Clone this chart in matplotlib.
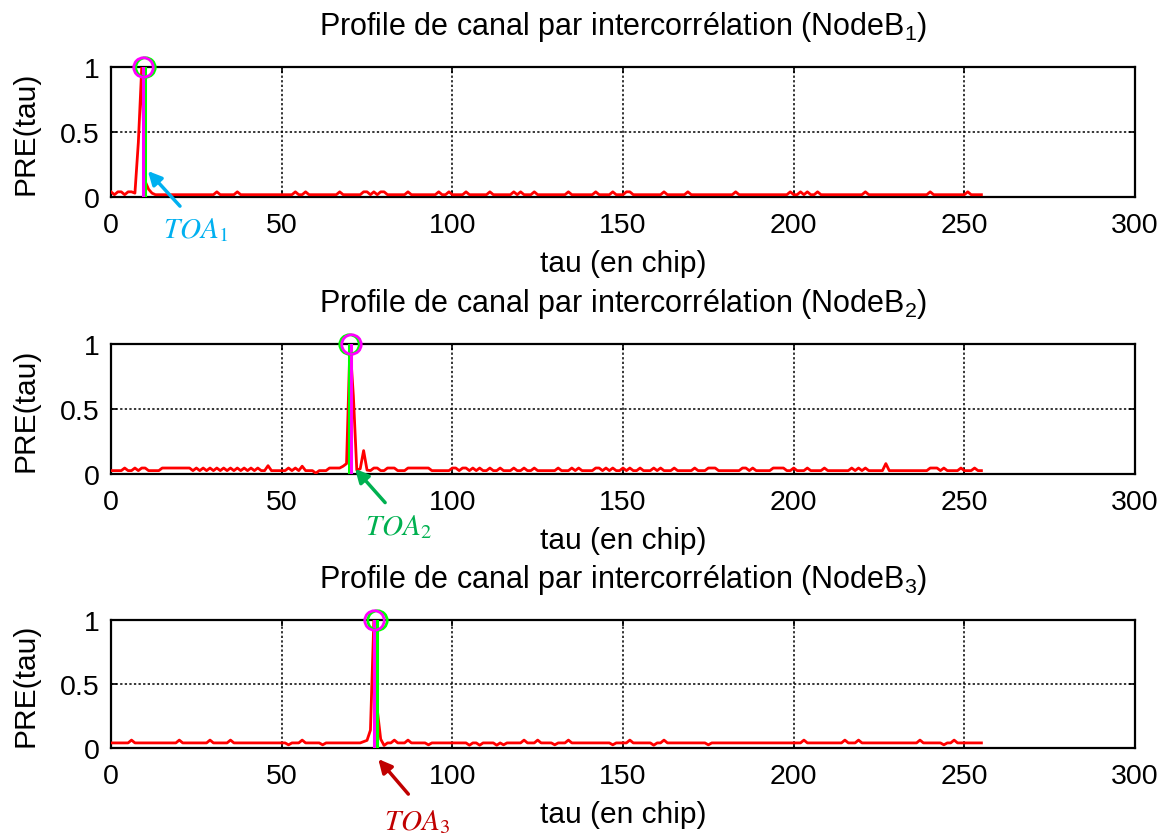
import numpy as np

import matplotlib
matplotlib.use("Agg")
import matplotlib.pyplot as plt


# =========================
# DATA
# =========================

tau = np.arange(256)

# baseline level of each normalised profile
base_levels = [0.018, 0.026, 0.040]

# NodeB1 : main path + small side lobes
peak1 = {7: 0.03, 8: 0.42, 9: 1.0, 10: 0.12, 11: 0.06, 12: 0.03}
bumps1 = [0, 2, 3, 5, 6, 31, 37, 54, 57, 67, 74, 75, 77, 79, 80, 87, 96, 99,
          104, 111, 118, 120, 124, 134, 142, 147, 151, 152, 162, 169, 183,
          199, 202, 204, 207, 221, 240, 251]
bump_val1 = 0.04

# NodeB2
peak2 = {68: 0.06, 69: 0.08, 70: 1.0, 71: 0.6, 72: 0.03, 73: 0.04,
         74: 0.18, 75: 0.03, 46: 0.064, 56: 0.06, 60: 0.006, 227: 0.08}
bumps2 = [4, 7, 9, 10, 15, 16, 17, 18, 19, 20, 21, 22, 23, 25, 27, 29, 31,
          33, 35, 37, 39, 41, 43, 52, 54, 64, 65, 66, 67, 77, 78, 81, 82, 83,
          87, 88, 89, 90, 91, 92, 93, 100, 101, 103, 104, 106, 108, 111, 114,
          118, 121, 124, 131, 135, 137, 142, 143, 145, 147, 150, 152, 155,
          159, 161, 165, 171, 175, 176, 177, 185, 186, 188, 194, 195, 196,
          197, 200, 204, 209, 217, 219, 221, 240, 241, 242, 244, 249, 253]
bump_val2 = 0.046

# NodeB3
peak3 = {74: 0.05, 75: 0.06, 76: 0.14, 77: 1.0, 78: 0.3, 79: 0.07,
         80: 0.02, 52: 0.025, 62: 0.025, 93: 0.025, 105: 0.022, 108: 0.022,
         113: 0.022, 115: 0.025, 130: 0.025, 147: 0.025, 159: 0.022,
         175: 0.025, 244: 0.025}
bumps3 = [6, 20, 29, 35, 56, 83, 87, 121, 125, 134, 152, 162, 203, 215,
          219, 237, 247]
bump_val3 = 0.062

# TOA markers (magenta / green) for each NodeB
toa_magenta = [9.3, 70.4, 76.9]
toa_green = [10.0, 69.8, 77.8]

toa_colors = ["#00B0F0", "#00B050", "#C00000"]

# arrow head, arrow tail and label position for each annotation
arrow_heads = [(10.8, 0.20), (71.5, 0.04), (78.3, -0.086)]
arrow_tails = [(20.2, -0.07), (80.3, -0.22), (87.1, -0.36)]
label_pos = [(24.9, -0.25), (84.2, -0.40), (89.6, -0.57)]


def build_profile(base, bumps, bump_val, points):
    pre = np.full(tau.shape, base)
    pre[bumps] = bump_val
    for k, v in points.items():
        pre[k] = v
    return pre


profiles = [
    build_profile(base_levels[0], bumps1, bump_val1, peak1),
    build_profile(base_levels[1], bumps2, bump_val2, peak2),
    build_profile(base_levels[2], bumps3, bump_val3, peak3),
]


# =========================
# FIGURE
# =========================

plt.rcParams["font.family"] = ["Liberation Sans", "DejaVu Sans"]
plt.rcParams["mathtext.fontset"] = "custom"
plt.rcParams["mathtext.rm"] = "Liberation Sans"

fig = plt.figure(figsize=(11.7, 8.37), dpi=100)

axes_rects = [
    [0.0949, 0.7634, 0.8752, 0.1553],
    [0.0949, 0.4325, 0.8752, 0.1553],
    [0.0949, 0.1051, 0.8752, 0.1529],
]

for i in range(3):

    ax = fig.add_axes(axes_rects[i])

    ax.plot(tau, profiles[i], color="red", lw=2.0, zorder=3)

    ax.plot([toa_green[i], toa_green[i]], [0, 1], color="#00FF00",
            lw=2.2, zorder=4)
    ax.plot([toa_magenta[i], toa_magenta[i]], [0, 1], color="#FF00FF",
            lw=2.2, zorder=4)
    ax.plot(toa_green[i], 1, "o", ms=14, mfc="none", mec="#00FF00",
            mew=2, zorder=5, clip_on=False)
    ax.plot(toa_magenta[i], 1, "o", ms=14, mfc="none", mec="#FF00FF",
            mew=2, zorder=5, clip_on=False)

    ax.set_xlim(0, 300)
    ax.set_ylim(0, 1)
    ax.set_xticks([0, 50, 100, 150, 200, 250, 300])
    ax.set_yticks([0, 0.5, 1])
    ax.set_yticklabels(["0", "0.5", "1"])

    ax.grid(True, color="black", linestyle=(0, (1.5, 1.5)), lw=1.1)
    ax.tick_params(direction="in", length=4, width=1.2, labelsize=20.5,
                   top=True, right=True)
    ax.tick_params(axis="x", pad=11)
    ax.tick_params(axis="y", pad=8)
    for s in ax.spines.values():
        s.set_linewidth(1.6)

    ax.set_title(
        "Profile de canal par intercorrélation (NodeB$_{%d}$)" % (i + 1),
        fontsize=22, pad=24)
    ax.set_xlabel("tau (en chip)", fontsize=21.5, labelpad=8)
    ax.set_ylabel("PRE(tau)", fontsize=21.5, labelpad=15)

    ax.annotate("", xy=arrow_heads[i], xytext=arrow_tails[i],
                arrowprops=dict(arrowstyle="-|>", color=toa_colors[i],
                                lw=2.5, mutation_scale=20,
                                shrinkA=0, shrinkB=0),
                annotation_clip=False, zorder=6)
    ax.text(label_pos[i][0], label_pos[i][1],
            r"$\mathit{TOA}_{%d}$" % (i + 1), color=toa_colors[i],
            fontsize=21, ha="center", va="center", math_fontfamily="stix",
            clip_on=False)

fig.savefig("out.png", dpi=100)
